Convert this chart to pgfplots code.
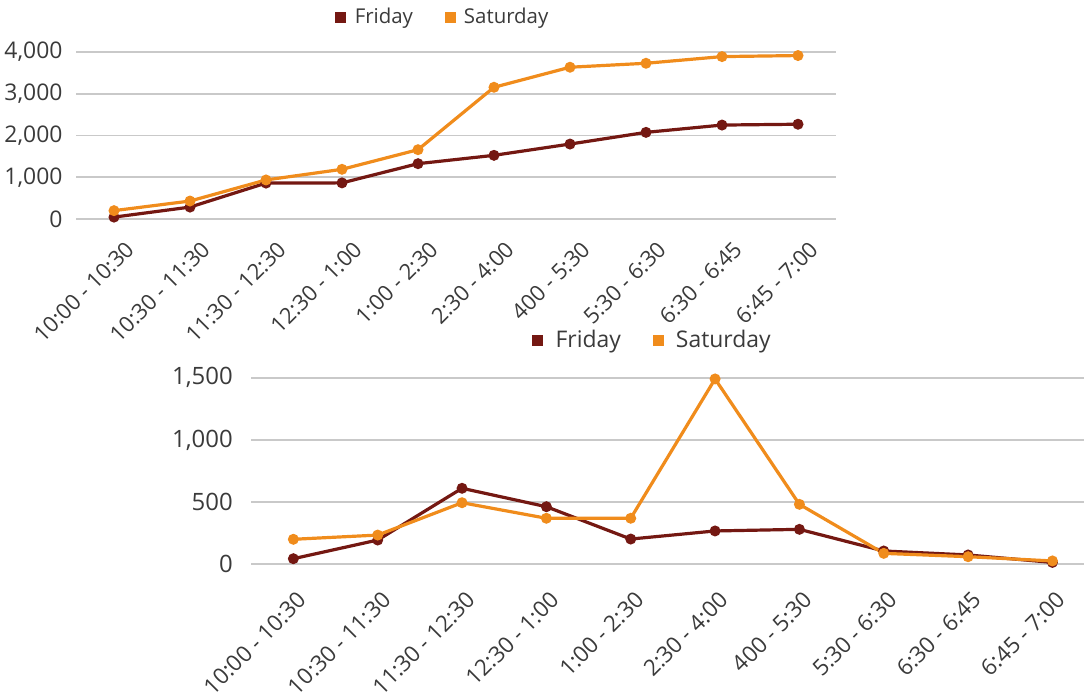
\documentclass[border=0pt]{standalone}
\usepackage{pgfplots}
\pgfplotsset{compat=1.18}
\usepackage{fontspec}
\setmainfont{Open Sans}
\definecolor{fri}{HTML}{741812}
\definecolor{sat}{HTML}{F08C1C}
\definecolor{txt}{HTML}{3A3A3A}
\definecolor{grd}{HTML}{C9C9C9}
\pgfplotsset{
  timeaxis/.style={
    scale only axis,
    axis line style={draw=none},
    xmin=-0.5, xmax=9.5,
    xtick={0,...,9},
    xticklabels={10:00 - 10:30, 10:30 - 11:30, 11:30 - 12:30, 12:30 - 1:00, 1:00 - 2:30, 2:30 - 4:00, 400 - 5:30, 5:30 - 6:30, 6:30 - 6:45, 6:45 - 7:00},
    major tick length=0pt,
    ymajorgrids,
    major grid style={grd, line width=1.8bp},
    /pgf/number format/1000 sep={,},
    /pgf/number format/assume math mode=true,
  },
  fr/.style={fri, line width=3.2bp, mark=*, mark size=3.8bp},
  sa/.style={sat, line width=3.2bp, mark=*, mark size=3.8bp},
  sqleg/.style={
    legend style={draw=none, fill=none, legend columns=2, anchor=center, text=txt,
      /tikz/every odd column/.append style={column sep=7bp},
      /tikz/every even column/.append style={column sep=30bp}},
    legend image code/.code={\draw[##1, mark=square*, mark size=5bp, line width=0.6bp] plot coordinates {(0bp,0bp)};},
  },
}
\begin{document}
\begin{tikzpicture}
\path[use as bounding box] (0bp,0bp) rectangle (1084bp,698bp);

% top chart
\begin{axis}[timeaxis, sqleg,
  at={(76bp,479bp)}, anchor=south west,
  width=760bp, height=167bp,
  ymin=0, ymax=4000, ytick={0,1000,2000,3000,4000},
  yticklabel style={text=txt, font=\fontsize{23}{27}\selectfont, xshift=-10bp},
  xticklabel style={text=txt, font=\fontsize{22}{26}\selectfont, xshift=10bp, yshift=-16bp, rotate=45, anchor=north east},
  legend style={at={(0.483,1.21)}, font=\fontsize{20.5}{24}\selectfont},
]
\addplot[fr] coordinates {(0,45) (1,285) (2,860) (3,865) (4,1325) (5,1525) (6,1795) (7,2075) (8,2250) (9,2270)};
\addlegendentry{Friday}
\addplot[sa] coordinates {(0,200) (1,430) (2,935) (3,1190) (4,1660) (5,3155) (6,3635) (7,3730) (8,3890) (9,3915)};
\addlegendentry{Saturday}
\end{axis}

% bottom chart
\begin{axis}[timeaxis, sqleg,
  at={(251.2bp,133.7bp)}, anchor=south west,
  width=843.4bp, height=186.6bp,
  ymin=0, ymax=1500, ytick={0,500,1000,1500},
  yticklabel style={text=txt, font=\fontsize{24}{28}\selectfont, xshift=-15bp},
  xticklabel style={text=txt, font=\fontsize{22.5}{26}\selectfont, xshift=3bp, yshift=-21bp, rotate=45, anchor=north east},
  legend style={at={(0.476,1.202)}, font=\fontsize{23}{27}\selectfont,
    /tikz/every odd column/.append style={column sep=11bp}},
]
\addplot[fr] coordinates {(0,45) (1,195) (2,611) (3,463) (4,203) (5,268) (6,281) (7,107) (8,75) (9,15)};
\addlegendentry{Friday}
\addplot[sa] coordinates {(0,201) (1,235) (2,495) (3,370) (4,370) (5,1490) (6,482) (7,88) (8,61) (9,27)};
\addlegendentry{Saturday}
\end{axis}
\end{tikzpicture}
\end{document}
